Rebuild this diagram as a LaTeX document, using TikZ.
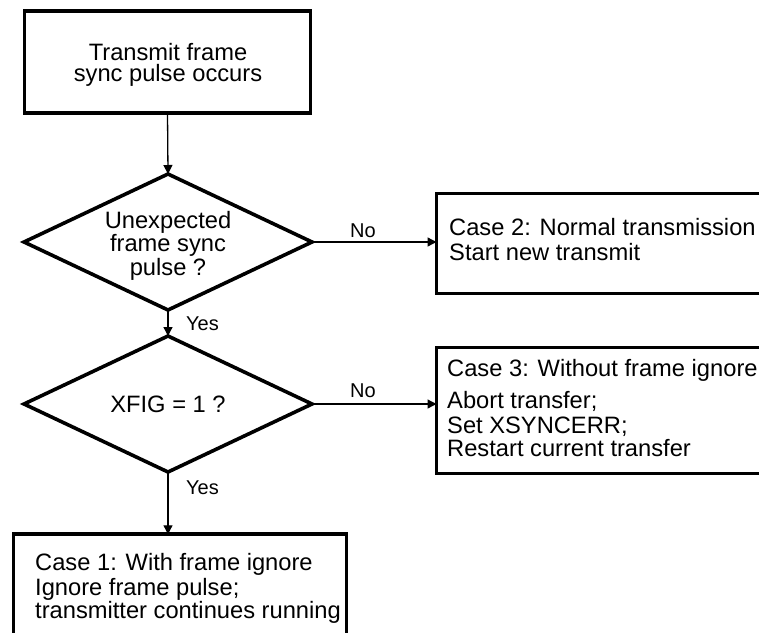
\documentclass[tikz,border=0pt]{standalone}
\usepackage{fontspec}
\setmainfont{Liberation Sans}
\usetikzlibrary{shapes.geometric,arrows.meta}

\begin{document}
\begin{tikzpicture}[x=1pt,y=-1pt,
  box/.style={draw,line width=3.6pt,rectangle,inner sep=0pt,outer sep=0pt},
  decision/.style={draw,line width=3.6pt,diamond,minimum width=288pt,minimum height=136pt,
    inner sep=0pt,outer sep=0pt},
  flow/.style={line width=1.3pt,-{Triangle[length=9pt,width=9pt]}},
  txt/.style={font=\fontsize{23.7}{24}\selectfont,inner sep=0pt},
  lbl/.style={font=\fontsize{20}{22}\selectfont,inner sep=0pt}]
\useasboundingbox (0,0) rectangle (759,632);
\clip (0,0) rectangle (759,632);

% shapes
\node[box,minimum width=286pt,minimum height=102pt] (start) at (167.5,62) {};
\node[decision] (d1) at (168,242) {};
\node[decision] (d2) at (168,404) {};
\node[box,minimum width=353.5pt,minimum height=100pt] (case2) at (613.25,243.5) {};
\node[box,minimum width=353.5pt,minimum height=126pt] (case3) at (613.25,410.5) {};
\node[box,minimum width=333pt,minimum height=125.5pt] (case1) at (180,597) {};

% texts
\node[txt,anchor=base] (t1) at (168,60) {Transmit frame};
\node[txt,anchor=base] (t2) at (168,81.7) {sync pulse occurs};

\node[txt,anchor=base] (q1a) at (168,228.3) {Unexpected};
\node[txt,anchor=base] (q1b) at (168,251.7) {frame sync};
\node[txt,anchor=base] (q1c) at (168,275.7) {pulse ?};
\node[txt,anchor=base] (q2) at (168,412.5) {XFIG = 1 ?};

\node[txt,anchor=base west] (c2a) at (449,235) {Case 2: Normal transmission};
\node[txt,anchor=base west] (c2b) at (449,260) {Start new transmit};

\node[txt,anchor=base west] (c3a) at (447,376.7) {Case 3: Without frame ignore};
\node[txt,anchor=base west] (c3b) at (447,408.3) {Abort transfer;};
\node[txt,anchor=base west] (c3c) at (447,433.3) {Set XSYNCERR;};
\node[txt,anchor=base west] (c3d) at (447,456.7) {Restart current transfer};

\node[txt,anchor=base west] (c1a) at (35,570) {Case 1: With frame ignore};
\node[txt,anchor=base west] (c1b) at (35,595) {Ignore frame pulse;};
\node[txt,anchor=base west] (c1c) at (35,618.3) {transmitter continues running};

% branch labels
\node[lbl,anchor=base] (no1) at (363,237) {No};
\node[lbl,anchor=base] (no2) at (363,397) {No};
\node[lbl,anchor=base west] (yes1) at (186,330) {Yes};
\node[lbl,anchor=base west] (yes2) at (186,494) {Yes};

% connectors
\draw[flow] (start.south) -- (d1.north);
\draw[flow] (d1.south) -- (d2.north);
\draw[flow] (d1.east) -- (d1.east -| case2.west);
\draw[flow] (d2.east) -- (d2.east -| case3.west);
\draw[flow] (d2.south) -- (d2.south |- case1.north);
\end{tikzpicture}
\end{document}
